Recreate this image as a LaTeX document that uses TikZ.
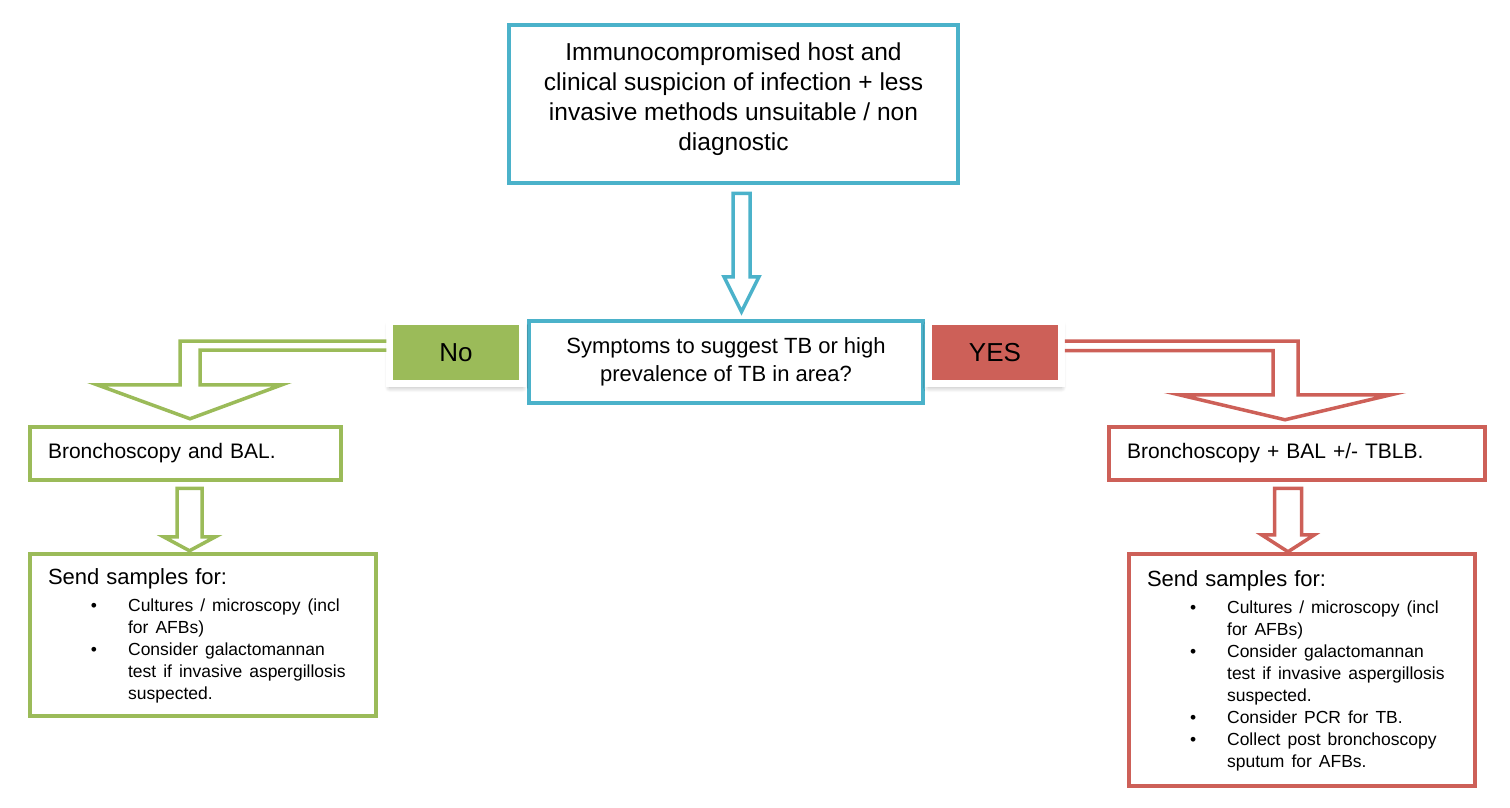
\documentclass[tikz,border=0pt]{standalone}
\usepackage{fontspec}
\setmainfont{Liberation Sans}
\usepackage{tikz}
\usetikzlibrary{calc,shadows.blur}

\definecolor{tbblue}{RGB}{75,178,202}
\definecolor{tbgreen}{RGB}{155,187,89}
\definecolor{tbred}{RGB}{205,96,88}

% straight hollow block arrow: style, top point, tip point, shaft half width, head half width, head length
\newcommand{\hollowarrow}[6]{%
  \draw[#1] let \p1=(#2), \p2=(#3) in
    (\x2-#4pt,\y1) -- (\x2+#4pt,\y1) -- (\x2+#4pt,\y2+#6pt) -- (\x2+#5pt,\y2+#6pt)
    -- (\x2,\y2) -- (\x2-#5pt,\y2+#6pt) -- (\x2-#4pt,\y2+#6pt) -- cycle;}

% list of samples to send
\newcommand{\samplehead}{{\fontsize{22}{26}\selectfont\rule{0pt}{21pt}Send samples for:}}
\newcommand{\samplelist}[1]{%
  \samplehead\\[2pt]
  {\fontsize{17.5}{22}\selectfont
  \begin{tabular}[t]{@{\hspace{43pt}}l@{\hspace{31pt}}l@{}}#1\end{tabular}}}

\begin{document}
\begin{tikzpicture}[x=1pt, y=-1pt, font=\fontsize{21}{25}\selectfont]
  \tikzstyle{every node}=[rectangle, fill=white, line width=4.5pt, inner sep=0pt]
  \tikzstyle{bluebox}=[draw=tbblue, align=center]
  \tikzstyle{greenbox}=[draw=tbgreen, align=left, inner xsep=18pt]
  \tikzstyle{redbox}=[draw=tbred, align=left, inner xsep=18pt]
  \tikzstyle{answer}=[draw=white, line width=6.5pt, minimum width=133pt, minimum height=62pt,
    font=\fontsize{26}{30}\selectfont,
    blur shadow={shadow xshift=0pt, shadow yshift=-4pt, shadow opacity=30, shadow blur radius=5pt, shadow blur steps=8}]
  \tikzstyle{bluearrow}=[draw=tbblue, line width=3.5pt]
  \tikzstyle{greenarrow}=[draw=tbgreen, line width=3.5pt]
  \tikzstyle{redarrow}=[draw=tbred, line width=3.5pt]

  \useasboundingbox (0,0) rectangle (1510,807);

  % question boxes
  \node[bluebox, minimum width=449pt, minimum height=158pt, font=\fontsize{24.5}{30}\selectfont]
    (host) at (733.5,104) {Immunocompromised host and\\clinical suspicion of infection + less\\invasive methods unsuitable / non\\diagnostic\rule[-15pt]{0pt}{15pt}};
  \node[bluebox, minimum width=394pt, minimum height=82pt, font=\fontsize{22}{28}\selectfont]
    (tbq) at (726,362) {Symptoms to suggest TB or high\\prevalence of TB in area?};
  \node[answer, fill=tbgreen] (no) at (456,352.5) {No};
  \node[answer, fill=tbred] (yes) at (995,352.5) {YES};

  % No branch
  \node[greenbox, minimum height=53pt, text width=275pt] (bronchno) at (185.5,453.5) {Bronchoscopy and BAL.};
  \node[greenbox, minimum height=162pt, text width=310pt] (samplesno) at (203,635) {\samplelist{%
    \textbullet & Cultures / microscopy (incl\\
     & for AFBs)\\
    \textbullet & Consider galactomannan\\
     & test if invasive aspergillosis\\
     & suspected.}};

  % YES branch
  \node[redbox, minimum height=53pt, text width=340pt] (bronchyes) at (1297,453.5) {Bronchoscopy + BAL +/- TBLB.};
  \node[redbox, minimum height=232pt, text width=310pt] (samplesyes) at (1302,670) {\samplelist{%
    \textbullet & Cultures / microscopy (incl\\
     & for AFBs)\\
    \textbullet & Consider galactomannan\\
     & test if invasive aspergillosis\\
     & suspected.\\
    \textbullet & Consider PCR for TB.\\
    \textbullet & Collect post bronchoscopy\\
     & sputum for AFBs.}};

  % arrows
  \hollowarrow{bluearrow}{[xshift=8pt,yshift=-8pt]host.south}{[xshift=15.5pt,yshift=7pt]tbq.north}{8.5}{17.5}{35}
  \draw[greenarrow] let \p1=(no.west), \p2=([xshift=4.5pt,yshift=6pt]bronchno.north) in
    (\x1,\y1+11.5pt) -- (\x2-10pt,\y1+11.5pt) -- (\x2-10pt,\y2+34pt) -- (\x2-93pt,\y2+34pt)
    -- (\x2,\y2) -- (\x2+92pt,\y2+34pt) -- (\x2+10pt,\y2+34pt) -- (\x2+10pt,\y1+2.5pt) -- (\x1,\y1+2.5pt);
  \draw[redarrow] let \p1=(yes.east), \p2=([xshift=-12pt,yshift=5pt]bronchyes.north) in
    (\x1,\y1+11.5pt) -- (\x2+13pt,\y1+11.5pt) -- (\x2+13pt,\y2+25pt) -- (\x2+106pt,\y2+25pt)
    -- (\x2,\y2) -- (\x2-106pt,\y2+25pt) -- (\x2-12pt,\y2+25pt) -- (\x2-12pt,\y1+2pt) -- (\x1,\y1+2pt);
  \hollowarrow{greenarrow}{[xshift=4pt,yshift=-6pt]bronchno.south}{[xshift=-13.5pt,yshift=1pt]samplesno.north}{12.5}{26}{14}
  \hollowarrow{redarrow}{[xshift=-9pt,yshift=-6pt]bronchyes.south}{[xshift=-14pt,yshift=0pt]samplesyes.north}{13.5}{26.5}{17}
\end{tikzpicture}
\end{document}
